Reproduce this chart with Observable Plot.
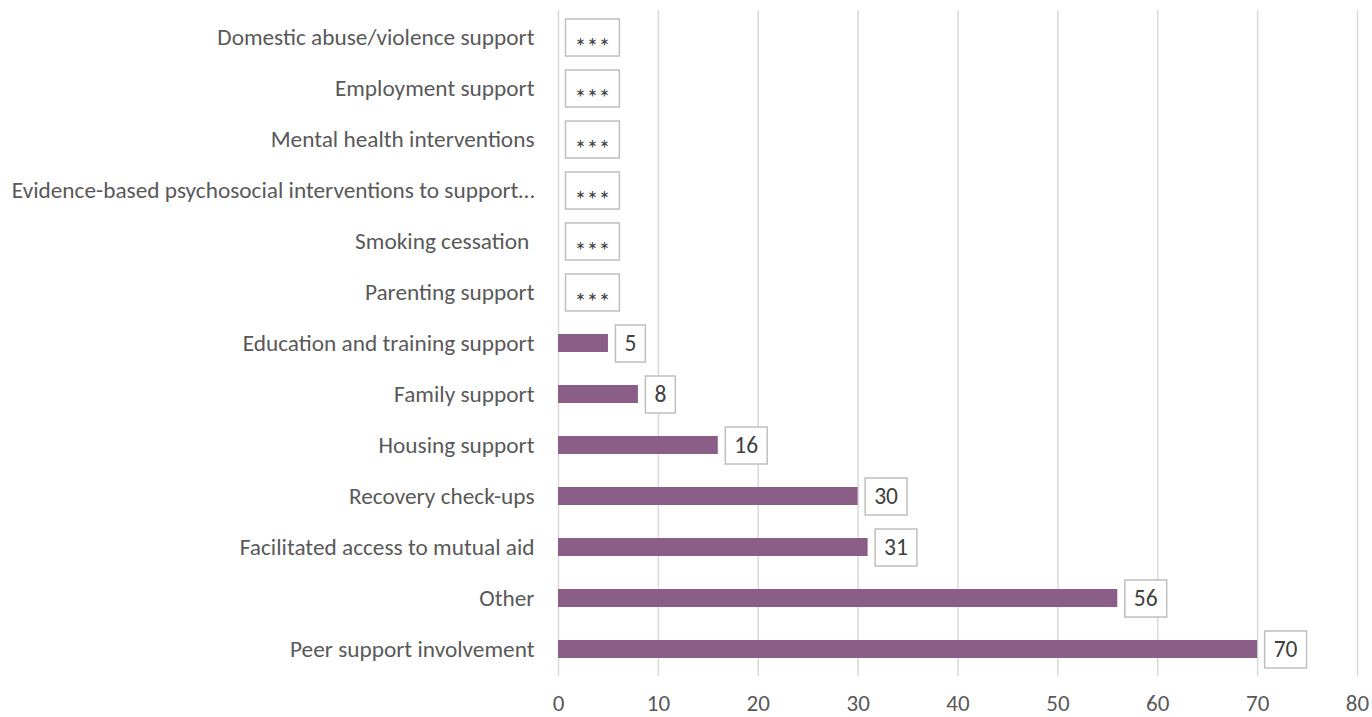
<!DOCTYPE html>
<html>
<head>
<meta charset="utf-8">
<script src="https://cdn.jsdelivr.net/npm/d3@7"></script>
<script src="https://cdn.jsdelivr.net/npm/@observablehq/plot@0.6"></script>
<style>
  html, body { margin: 0; padding: 0; background: #fff; }
  #chart svg { display: block; }
</style>
</head>
<body>
<div id="chart"></div>
<script>
const categories = [
  "Domestic abuse/violence support",
  "Employment support",
  "Mental health interventions",
  "Evidence-based psychosocial interventions to support…",
  "Smoking cessation\u00a0",
  "Parenting support",
  "Education and training support",
  "Family support",
  "Housing support",
  "Recovery check-ups",
  "Facilitated access to mutual aid",
  "Other",
  "Peer support involvement"
];
const values = [0, 0, 0, 0, 0, 0, 5, 8, 16, 30, 31, 56, 70];
const valueLabels = ["***", "***", "***", "***", "***", "***", "5", "8", "16", "30", "31", "56", "70"];
const xTicks = [0, 10, 20, 30, 40, 50, 60, 70, 80];

const data = categories.map((c, i) => ({category: c, value: values[i], label: valueLabels[i]}));
const FONT = "Carlito, Calibri, 'Liberation Sans', Arial, sans-serif";

const chart = Plot.plot({
  width: 1372,
  height: 717,
  marginLeft: 558,
  marginRight: 15,
  marginTop: 10,
  marginBottom: 41,
  style: {fontFamily: FONT, color: "#595959", background: "#fff"},
  x: {domain: [0, 80], label: null},
  y: {domain: categories, label: null, paddingInner: 0.65, paddingOuter: 0.325},
  marks: [
    Plot.gridX(xTicks, {stroke: "#d9d9d9", strokeOpacity: 1, strokeWidth: 1.5}),
    Plot.barX(data.filter(d => d.value > 0), {x: "value", y: "category", fill: "#8b5e88"}),
    Plot.text(data, {x: "value", y: "category", text: "label", dx: 16, textAnchor: "start",
      fontSize: d => d.label === "***" ? 24 : 23.5, fill: "#404040", className: "vlabel"}),
    Plot.axisY({tickSize: 0, tickPadding: 24, fontSize: 23.3, fill: "#595959"}),
    Plot.axisX({ticks: xTicks, tickSize: 0, tickPadding: 18, fontSize: 23, fill: "#595959", label: null})
  ]
});
document.getElementById("chart").appendChild(chart);

// Draw boxes behind value labels, centred on each label's row
const svg = d3.select(chart);
svg.selectAll("g.vlabel text").each(function(_, i) {
  const d = data[i];
  const tl = this.transform && this.transform.baseVal;
  let ex = 0, ey = +this.getAttribute("y") || 0;
  if (tl && tl.numberOfItems) { const m = tl.consolidate().matrix; ex = m.e; ey = m.f + ey; }
  if (d.label === "***") this.setAttribute("dy", "0.39em");
  const bb = this.getBBox();
  const g = this.parentNode;
  d3.select(g).insert("rect", () => this)
    .attr("x", ex + bb.x - 9)
    .attr("y", ey - 18.5)
    .attr("width", bb.width + 18)
    .attr("height", 37)
    .attr("fill", "#fff")
    .attr("stroke", "#bfbfbf")
    .attr("stroke-width", 1.5);
});
</script>
</body>
</html>
